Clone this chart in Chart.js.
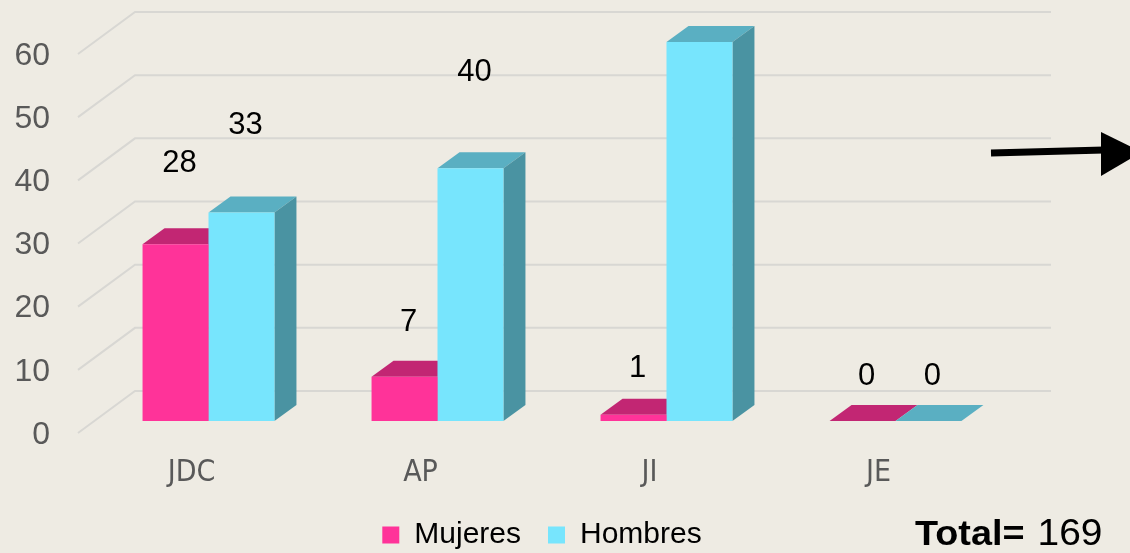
<!DOCTYPE html>
<html>
<head>
<meta charset="utf-8">
<script src="https://cdn.jsdelivr.net/npm/chart.js@4.4.1/dist/chart.umd.min.js"></script>
<style>
  html, body { margin: 0; padding: 0; background: #EEEBE3; overflow: hidden; }
  #wrap { width: 1130px; height: 553px; position: relative; }
</style>
</head>
<body>
<div id="wrap"><canvas id="myChart"></canvas></div>
<script>
'use strict';
// data
var categories = ['JDC', 'AP', 'JI', 'JE'];
var mujeres = [28, 7, 1, 0];
var hombres = [33, 40, 60, 0];
var yMin = 0;
var yMax = 60;
var yStep = 10;

Chart.defaults.font.family = '"Liberation Sans", Arial, sans-serif';

// 3d look: bar depth, floor/back wall offsets relative to the bar plane
var depth = { dx: 22, dy: -16 };
var front = { dx: -16, dy: 12 };
var back = { dx: 41, dy: -30 };

function quad(ctx, pts) {
    ctx.beginPath();
    ctx.moveTo(pts[0], pts[1]);
    for (var i = 2; i < pts.length; i += 2) ctx.lineTo(pts[i], pts[i + 1]);
    ctx.closePath();
    ctx.fill();
}

function noPad(s) {
    s.paddingTop = 0;
    s.paddingBottom = 0;
    s.paddingLeft = 0;
    s.paddingRight = 0;
}

var scene3d = {
    id: 'scene3d',
    afterLayout: function (chart) {
        // legend sits a bit left of the plot centre
        chart.legend.left -= 10;
        chart.legend.right -= 10;
    },
    beforeDatasetsDraw: function (chart) {
        var ctx = chart.ctx, a = chart.chartArea, y = chart.scales.y;
        ctx.save();
        // walls
        ctx.strokeStyle = '#D8D7D3';
        ctx.lineWidth = 2;
        y.ticks.forEach(function (t) {
            var py = y.getPixelForValue(t.value);
            ctx.beginPath();
            ctx.moveTo(a.left + front.dx, py + front.dy);
            ctx.lineTo(a.left + back.dx, py + back.dy);
            ctx.lineTo(a.right + back.dx, py + back.dy);
            ctx.stroke();
        });
        // top and side faces, fronts are drawn by chart.js afterwards
        chart.data.datasets.forEach(function (ds, i) {
            chart.getDatasetMeta(i).data.forEach(function (bar) {
                var p = bar.getProps(['x', 'y', 'base', 'width'], true);
                var l = p.x - p.width / 2, r = p.x + p.width / 2;
                ctx.fillStyle = ds.topColor;
                quad(ctx, [l, p.y, r, p.y, r + depth.dx, p.y + depth.dy, l + depth.dx, p.y + depth.dy]);
                ctx.fillStyle = ds.sideColor;
                quad(ctx, [r, p.y, r, p.base, r + depth.dx, p.base + depth.dy, r + depth.dx, p.y + depth.dy]);
            });
        });
        ctx.restore();
    },
    afterDatasetsDraw: function (chart) {
        var ctx = chart.ctx, y = chart.scales.y;
        ctx.save();
        ctx.fillStyle = '#000';
        ctx.font = '31px "Liberation Sans", Arial, sans-serif';
        ctx.textAlign = 'center';
        ctx.textBaseline = 'middle';
        chart.data.datasets.forEach(function (ds, i) {
            chart.getDatasetMeta(i).data.forEach(function (bar, j) {
                var v = ds.data[j];
                // labels sit on a slightly stretched projection above the bars
                var ly = y.getPixelForValue(v * 1.2) - 45;
                ctx.fillText(String(v), bar.x + 4, ly);
            });
        });
        ctx.restore();
    },
    afterDraw: function (chart) {
        var ctx = chart.ctx;
        var total = mujeres.concat(hombres).reduce(function (s, v) { return s + v; }, 0);
        ctx.save();
        // arrow
        ctx.fillStyle = '#000';
        ctx.strokeStyle = '#000';
        ctx.lineWidth = 7;
        ctx.beginPath();
        ctx.moveTo(991, 153);
        ctx.lineTo(1104, 150);
        ctx.stroke();
        quad(ctx, [1101, 132, 1101, 176, 1142, 152]);
        // total
        ctx.textBaseline = 'alphabetic';
        ctx.translate(915, 545);
        ctx.scale(1.08, 1);
        ctx.font = 'bold 35px "Liberation Sans", Arial, sans-serif';
        ctx.fillText('Total=', 0, 0);
        var w = ctx.measureText('Total=').width;
        ctx.font = '36px "Liberation Sans", Arial, sans-serif';
        ctx.fillText(String(total), w + 12, 0);
        ctx.restore();
    }
};

var ctx = document.getElementById('myChart');
var myChart = new Chart(ctx, {
    type: 'bar',
    data: {
        labels: categories,
        datasets: [{
            label: 'Mujeres',
            data: mujeres,
            backgroundColor: '#FF3399',
            topColor: '#C22673',
            sideColor: '#A81F63',
            borderWidth: 0
        }, {
            label: 'Hombres',
            data: hombres,
            backgroundColor: '#77E5FD',
            topColor: '#5AAFC2',
            sideColor: '#4A93A2',
            borderWidth: 0
        }]
    },
    options: {
        responsive: true,
        maintainAspectRatio: false,
        animation: false,
        categoryPercentage: 0.576,
        barPercentage: 1,
        layout: { padding: { top: 42, left: 0, right: 120, bottom: -7 } },
        plugins: {
            tooltip: { enabled: false },
            legend: {
                position: 'bottom',
                fullSize: false,
                labels: {
                    boxWidth: 17,
                    boxHeight: 17,
                    padding: 27,
                    color: '#000',
                    font: { size: 30 }
                }
            }
        },
        scales: {
            x: {
                grid: { display: false, drawTicks: false },
                border: { display: false },
                ticks: {
                    padding: 34,
                    labelOffset: -17,
                    color: '#595959',
                    font: { size: 30, family: '"Liberation Sans Narrow", "DejaVu Sans Condensed", sans-serif' }
                },
                afterFit: function (s) { s.height = 72; noPad(s); }
            },
            y: {
                min: yMin,
                max: yMax,
                grid: { display: false, drawTicks: false },
                border: { display: false },
                ticks: {
                    stepSize: yStep,
                    padding: 44,
                    labelOffset: 14,
                    color: '#595959',
                    font: { size: 32 }
                },
                afterFit: function (s) { s.width = 94; noPad(s); }
            }
        }
    },
    plugins: [scene3d]
});
</script>
</body>
</html>
